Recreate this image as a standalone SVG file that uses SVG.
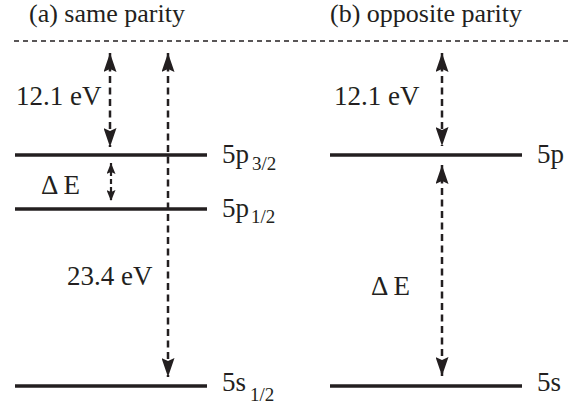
<svg xmlns="http://www.w3.org/2000/svg" width="581" height="407" viewBox="0 0 581 407">
<style>
.tx{font-family:'Liberation Serif','Times New Roman',serif;font-size:27px;fill:#231f20}
.ttl{font-size:26px}
.sub{font-size:19px}
.lvl{stroke:#231f20;stroke-width:3.5;fill:none}
.arr{stroke:#231f20;stroke-width:2.5;stroke-dasharray:7,4.5;fill:none;marker-start:url(#ah);marker-end:url(#ah)}
.arrs{stroke:#231f20;stroke-width:2.2;stroke-dasharray:5,3;fill:none;marker-start:url(#ahs);marker-end:url(#ahs)}
.top{stroke:#231f20;stroke-width:1.3;stroke-dasharray:5,4;fill:none}
</style>
<defs>
<marker id="ah" viewBox="0 0 19 13" refX="19" refY="6.5" markerWidth="19" markerHeight="13" markerUnits="userSpaceOnUse" orient="auto-start-reverse">
<path d="M0,0 L19,6.5 L0,13 L3,6.5 Z" fill="#231f20"/>
</marker>
<marker id="ahs" viewBox="0 0 11 9" refX="11" refY="4.5" markerWidth="11" markerHeight="9" markerUnits="userSpaceOnUse" orient="auto-start-reverse">
<path d="M0,0 L11,4.5 L0,9 L2,4.5 Z" fill="#231f20"/>
</marker>
</defs>
<g id="titles">
<text class="tx ttl" x="29" y="22">(a) same parity</text>
<text class="tx ttl" x="330" y="22">(b) opposite parity</text>
</g>
<line class="top" x1="14" y1="41" x2="572" y2="41"/>
<g id="a-5p32">
<line class="lvl" x1="15" y1="155" x2="207" y2="155"/>
<text class="tx" x="222" y="163">5p<tspan class="sub" dx="3" dy="7">3/2</tspan></text>
</g>
<g id="a-5p12">
<line class="lvl" x1="15" y1="209" x2="207" y2="209"/>
<text class="tx" x="222" y="217">5p<tspan class="sub" dx="2" dy="6">1/2</tspan></text>
</g>
<g id="a-5s12">
<line class="lvl" x1="15" y1="386" x2="207" y2="386"/>
<text class="tx" x="222" y="391">5s<tspan class="sub" dx="4" dy="10">1/2</tspan></text>
</g>
<g id="b-5p">
<line class="lvl" x1="330" y1="155" x2="522" y2="155"/>
<text class="tx" x="537" y="163">5p</text>
</g>
<g id="b-5s">
<line class="lvl" x1="330" y1="386" x2="522" y2="386"/>
<text class="tx" x="537" y="391">5s</text>
</g>
<g id="connectors">
<line class="arr" x1="110" y1="53" x2="110" y2="147"/>
<line class="arr" x1="168" y1="53" x2="168" y2="377"/>
<line class="arrs" x1="111" y1="163" x2="111" y2="201"/>
<line class="arr" x1="442" y1="53" x2="442" y2="146"/>
<line class="arr" x1="442" y1="165" x2="442" y2="376"/>
</g>
<g id="labels">
<text class="tx" x="16" y="105">12.1 eV</text>
<text class="tx" x="67" y="285">23.4 eV</text>
<text class="tx" x="41" y="194">Δ E</text>
<text class="tx" x="334" y="105">12.1 eV</text>
<text class="tx" x="371" y="295">Δ E</text>
</g>
</svg>
